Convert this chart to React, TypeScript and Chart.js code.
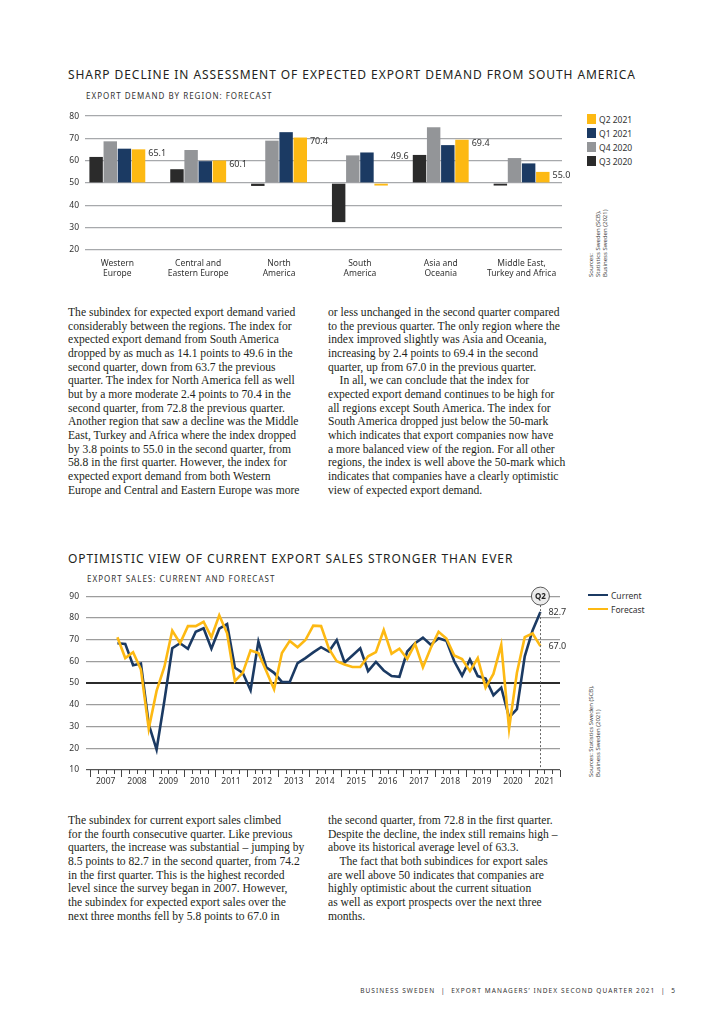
import React, { useEffect, useRef } from "react";
import { Chart, registerables } from "chart.js";

Chart.register(...registerables);
Chart.defaults.font.family = "'Noto Sans', sans-serif";

// ---------- Chart 1 data ----------
const regions = [
  ["Western", "Europe"],
  ["Central and", "Eastern Europe"],
  ["North", "America"],
  ["South", "America"],
  ["Asia and", "Oceania"],
  ["Middle East,", "Turkey and Africa"],
];
const q3_2020 = [61.7, 56.2, 48.7, 32.5, 62.6, 48.9];
const q4_2020 = [68.7, 64.8, 69.0, 62.4, 75.0, 61.2];
const q1_2021 = [65.4, 59.8, 72.8, 63.7, 67.0, 58.8];
const q2_2021 = [65.1, 60.1, 70.4, 49.6, 69.4, 55.0];
const barSeriesNames = ["Q3 2020", "Q4 2020", "Q1 2021", "Q2 2021"];
const barSeriesValues = [q3_2020, q4_2020, q1_2021, q2_2021];
const barColors = ["#2b2b2b", "#939598", "#1b3a63", "#fdb913"];
const demandTicks = [20, 30, 40, 50, 60, 70, 80];

// ---------- Chart 2 data ----------
const firstYear = 2007;
const firstQuarter = 4; // series starts 2007 Q4
const yearLabels = ["2007", "2008", "2009", "2010", "2011", "2012", "2013", "2014", "2015", "2016", "2017", "2018", "2019", "2020", "2021"];
const currentSales = [
  68.3, 68.0, 58.2, 59.0, 31.0, 19.4, 42.0, 66.0, 68.3, 65.8, 73.6, 75.2, 65.8, 75.0, 77.1,
  57.0, 54.7, 46.7, 69.1, 57.3, 54.7, 50.5, 50.5, 59.2, 61.5, 64.1, 66.5, 64.5, 69.8, 59.5,
  62.7, 66.0, 55.5, 59.7, 55.8, 53.2, 52.9, 64.5, 68.3, 70.9, 67.6, 70.6, 69.4, 60.0, 53.4,
  60.8, 53.2, 52.1, 44.4, 47.9, 34.2, 38.0, 62.3, 74.2, 82.7,
];
const forecastSales = [
  71.1, 61.5, 64.2, 56.2, 29.0, 46.4, 57.5, 74.1, 68.3, 76.2, 76.2, 78.2, 71.1, 81.2, 72.9,
  50.9, 54.7, 65.0, 63.8, 55.5, 47.1, 63.8, 69.4, 66.5, 69.8, 76.4, 76.2, 65.8, 60.0, 58.5,
  57.4, 57.4, 62.3, 64.2, 74.4, 63.5, 65.8, 61.1, 68.0, 57.3, 66.1, 73.6, 70.5, 62.7, 61.0,
  55.5, 61.5, 47.9, 54.2, 67.6, 29.0, 54.7, 71.1, 72.8, 67.0,
];
const lineSeriesNames = ["Current", "Forecast"];
const lineColors = ["#1b3a63", "#fdb913"];
const lastQuarterLabel = "Q2";

const quarterX = (i: number) => {
  const q = firstQuarter - 1 + i;
  return firstYear + Math.floor(q / 4) + ((q % 4) + 0.5) / 4;
};

// ---------- text ----------
const text1Left = `The subindex for expected export demand varied
considerably between the regions. The index for
expected export demand from South America
dropped by as much as 14.1 points to 49.6 in the
second quarter, down from 63.7 the previous
quarter. The index for North America fell as well
but by a more moderate 2.4 points to 70.4 in the
second quarter, from 72.8 the previous quarter.
Another region that saw a decline was the Middle
East, Turkey and Africa where the index dropped
by 3.8 points to 55.0 in the second quarter, from
58.8 in the first quarter. However, the index for
expected export demand from both Western
Europe and Central and Eastern Europe was more`;
const text1Right = `or less unchanged in the second quarter compared
to the previous quarter. The only region where the
index improved slightly was Asia and Oceania,
increasing by 2.4 points to 69.4 in the second
quarter, up from 67.0 in the previous quarter.
    In all, we can conclude that the index for
expected export demand continues to be high for
all regions except South America. The index for
South America dropped just below the 50-mark
which indicates that export companies now have
a more balanced view of the region. For all other
regions, the index is well above the 50-mark which
indicates that companies have a clearly optimistic
view of expected export demand.`;
const text2Left = `The subindex for current export sales climbed
for the fourth consecutive quarter. Like previous
quarters, the increase was substantial – jumping by
8.5 points to 82.7 in the second quarter, from 74.2
in the first quarter. This is the highest recorded
level since the survey began in 2007. However,
the subindex for expected export sales over the
next three months fell by 5.8 points to 67.0 in`;
const text2Right = `the second quarter, from 72.8 in the first quarter.
Despite the decline, the index still remains high –
above its historical average level of 63.3.
    The fact that both subindices for export sales
are well above 50 indicates that companies are
highly optimistic about the current situation
as well as export prospects over the next three
months.`;

// ---------- Chart 1 ----------
const barValueLabels = {
  id: "barValueLabels",
  afterDatasetsDraw(chart: any) {
    const ctx = chart.ctx;
    const last = chart.data.datasets.length - 1;
    const meta = chart.getDatasetMeta(last);
    const y = chart.scales.y;
    ctx.save();
    ctx.font = "9px 'Noto Sans'";
    ctx.fillStyle = "#333";
    ctx.textBaseline = "middle";
    ctx.textAlign = "left";
    meta.data.forEach((bar: any, i: number) => {
      const v = q2_2021[i];
      const ref = v >= 50 ? v : q1_2021[i];
      ctx.fillText(v.toFixed(1), bar.x + bar.width / 2 + 3, y.getPixelForValue(ref) + 4);
    });
    ctx.restore();
  },
};

function DemandChart() {
  const ref = useRef<HTMLCanvasElement>(null);
  useEffect(() => {
    const chart = new Chart(ref.current!, {
      type: "bar",
      data: {
        datasets: barSeriesNames.map((name, s) => ({
          label: name,
          data: barSeriesValues[s].map((v, i) => ({ x: i, y: v })),
          backgroundColor: barColors[s],
          base: 50,
          minBarLength: 2.5,
          categoryPercentage: 0.7,
          barPercentage: 0.95,
        })) as any,
      },
      options: {
        animation: false,
        responsive: true,
        maintainAspectRatio: false,
        layout: { padding: { left: 0, right: 8, top: 10, bottom: 0 } },
        plugins: { legend: { display: false }, tooltip: { enabled: false } },
        scales: {
          x: {
            type: "linear",
            offset: false,
            min: -0.4,
            max: 5.5,
            afterBuildTicks: (s: any) => {
              s.ticks = regions.map((_, i) => ({ value: i }));
            },
            afterFit: (s: any) => {
              s.height = 35;
            },
            ticks: {
              autoSkip: false,
              maxRotation: 0,
              padding: 8,
              color: "#333",
              font: { size: 8.5, lineHeight: 1.25 },
              callback: (_v: any, i: number) => regions[i],
            },
            grid: { display: false, drawTicks: false },
            border: { display: false },
          },
          y: {
            min: demandTicks[0],
            max: demandTicks[demandTicks.length - 1],
            afterBuildTicks: (s: any) => {
              s.ticks = demandTicks.map((v) => ({ value: v }));
            },
            afterFit: (s: any) => {
              s.width = 25;
            },
            ticks: { padding: 6, color: "#333", font: { size: 8.5 } },
            grid: { color: "#a7a9ac", lineWidth: 1.3, drawTicks: false },
            border: { display: false },
          },
        },
      },
      plugins: [barValueLabels],
    });
    return () => chart.destroy();
  }, []);
  return (
    <div style={{ position: "absolute", left: 60, top: 105, width: 510, height: 180 }}>
      <canvas ref={ref} />
    </div>
  );
}

// ---------- Chart 2 ----------
const salesDecor = {
  id: "salesDecor",
  afterDraw(chart: any) {
    const { ctx, chartArea } = chart;
    const x = chart.scales.x;
    const y = chart.scales.y;
    ctx.save();
    ctx.strokeStyle = "#444";
    ctx.lineWidth = 1;
    x.ticks.forEach((t: any, i: number) => {
      const px = Math.round(x.getPixelForValue(t.value)) + 0.5;
      ctx.beginPath();
      ctx.moveTo(px, chartArea.bottom);
      ctx.lineTo(px, chartArea.bottom + (i % 4 === 0 ? 7 : 4));
      ctx.stroke();
    });
    const lastIdx = currentSales.length - 1;
    const lx = x.getPixelForValue(quarterX(lastIdx));
    const cy = y.getPixelForValue(y.max);
    const r = 9;
    ctx.setLineDash([2, 2]);
    ctx.strokeStyle = "#666";
    ctx.beginPath();
    ctx.moveTo(Math.round(lx) + 0.5, cy + r);
    ctx.lineTo(Math.round(lx) + 0.5, chartArea.bottom);
    ctx.stroke();
    ctx.setLineDash([]);
    ctx.beginPath();
    ctx.arc(lx, cy, r, 0, Math.PI * 2);
    ctx.fillStyle = "#ececec";
    ctx.fill();
    ctx.strokeStyle = "#333";
    ctx.lineWidth = 0.8;
    ctx.stroke();
    ctx.fillStyle = "#222";
    ctx.font = "bold 8px 'Noto Sans'";
    ctx.textAlign = "center";
    ctx.textBaseline = "middle";
    ctx.fillText(lastQuarterLabel, lx, cy + 0.5);
    ctx.font = "9px 'Noto Sans'";
    ctx.fillStyle = "#333";
    ctx.textAlign = "left";
    [currentSales, forecastSales].forEach((arr) => {
      const v = arr[arr.length - 1];
      ctx.fillText(v.toFixed(1), lx + 8, y.getPixelForValue(v));
    });
    ctx.restore();
  },
};

function SalesChart() {
  const ref = useRef<HTMLCanvasElement>(null);
  useEffect(() => {
    const gridColor = (c: any) =>
      c.tick.value === 50 ? "#2b2b2b" : c.tick.value === 10 ? "#555" : "#9d9d9d";
    const chart = new Chart(ref.current!, {
      type: "line",
      data: {
        datasets: [
          {
            label: lineSeriesNames[0],
            data: currentSales.map((v, i) => ({ x: quarterX(i), y: v })),
            borderColor: lineColors[0],
            borderWidth: 2.6,
            pointRadius: 0,
            tension: 0,
            order: 1,
          },
          {
            label: lineSeriesNames[1],
            data: forecastSales.map((v, i) => ({ x: quarterX(i), y: v })),
            borderColor: lineColors[1],
            borderWidth: 2.6,
            pointRadius: 0,
            tension: 0,
            order: 0,
          },
        ],
      },
      options: {
        animation: false,
        responsive: true,
        maintainAspectRatio: false,
        layout: { padding: { left: 0, right: 20, top: 10, bottom: 0 } },
        plugins: { legend: { display: false }, tooltip: { enabled: false } },
        scales: {
          x: {
            type: "linear",
            offset: false,
            min: firstYear,
            max: firstYear + yearLabels.length,
            afterBuildTicks: (s: any) => {
              const t = [];
              for (let i = 0; i <= yearLabels.length * 4; i++) t.push({ value: firstYear + i / 4 });
              s.ticks = t;
            },
            afterFit: (s: any) => {
              s.height = 30;
            },
            ticks: {
              autoSkip: false,
              maxRotation: 0,
              padding: 6,
              color: "#333",
              font: { size: 8.5 },
              callback: (_v: any, i: number) => (i % 4 === 2 ? yearLabels[Math.floor(i / 4)] : ""),
            },
            grid: { display: false, drawTicks: false },
            border: { display: false },
          },
          y: {
            min: 10,
            max: 90,
            ticks: { stepSize: 10, padding: 7, color: "#333", font: { size: 8.5 } },
            afterFit: (s: any) => {
              s.width = 30;
            },
            grid: {
              color: gridColor,
              tickColor: gridColor,
              lineWidth: (c: any) => (c.tick.value === 50 ? 2 : 1.2),
              tickWidth: (c: any) => (c.tick.value === 50 ? 2 : 1.2),
              tickLength: 4,
            },
            border: { display: false },
          },
        },
      },
      plugins: [salesDecor],
    });
    return () => chart.destroy();
  }, []);
  return (
    <div style={{ position: "absolute", left: 60, top: 584, width: 520, height: 216 }}>
      <canvas ref={ref} />
    </div>
  );
}

// ---------- page ----------
const sans = "'Noto Sans', sans-serif";
const serif = "'Liberation Serif', 'DejaVu Serif', serif";

const titleStyle: React.CSSProperties = {
  position: "absolute",
  fontFamily: sans,
  fontSize: 12,
  lineHeight: "16px",
  letterSpacing: 0.93,
  color: "#231f20",
  whiteSpace: "nowrap",
};
const subStyle: React.CSSProperties = {
  position: "absolute",
  fontFamily: sans,
  fontSize: 8,
  lineHeight: "10px",
  letterSpacing: 1.0,
  color: "#333",
  whiteSpace: "nowrap",
};
const bodyStyle: React.CSSProperties = {
  position: "absolute",
  fontFamily: serif,
  fontSize: 11.6,
  lineHeight: "13.65px",
  color: "#231f20",
  whiteSpace: "pre",
};
const sourceStyle: React.CSSProperties = {
  position: "absolute",
  fontFamily: sans,
  fontSize: 6,
  lineHeight: "6.8px",
  color: "#444",
  whiteSpace: "pre",
  transform: "rotate(-90deg)",
  transformOrigin: "left top",
};
const legendText: React.CSSProperties = {
  fontFamily: sans,
  fontSize: 8.5,
  color: "#333",
  whiteSpace: "nowrap",
};

export default function App() {
  return (
    <div style={{ position: "absolute", left: 0, top: 0, width: 724, height: 1024, background: "#fff", overflow: "hidden" }}>
      <div style={{ ...titleStyle, left: 68, top: 67 }}>
        SHARP DECLINE IN ASSESSMENT OF EXPECTED EXPORT DEMAND FROM SOUTH AMERICA
      </div>
      <div style={{ ...subStyle, left: 86, top: 91 }}>EXPORT DEMAND BY REGION: FORECAST</div>
      <DemandChart />
      <div style={{ position: "absolute", left: 587, top: 112 }}>
        {barSeriesNames
          .map((n, i) => ({ n, c: barColors[i] }))
          .reverse()
          .map((it) => (
            <div key={it.n} style={{ display: "flex", alignItems: "center", height: 14 }}>
              <div style={{ width: 9, height: 10, background: it.c, marginRight: 3 }} />
              <span style={legendText}>{it.n}</span>
            </div>
          ))}
      </div>
      <div style={{ ...sourceStyle, left: 588, top: 277 }}>
        {"Sources:\nStatistics Sweden (SCB),\nBusiness Sweden (2021)"}
      </div>

      <div style={{ ...bodyStyle, left: 68, top: 306 }}>{text1Left}</div>
      <div style={{ ...bodyStyle, left: 328, top: 306 }}>{text1Right}</div>

      <div style={{ ...titleStyle, left: 68, top: 551 }}>
        OPTIMISTIC VIEW OF CURRENT EXPORT SALES STRONGER THAN EVER
      </div>
      <div style={{ ...subStyle, left: 87, top: 574 }}>EXPORT SALES: CURRENT AND FORECAST</div>
      <SalesChart />
      <div style={{ position: "absolute", left: 588, top: 588 }}>
        {lineSeriesNames.map((n, i) => (
          <div key={n} style={{ display: "flex", alignItems: "center", height: 14 }}>
            <div style={{ width: 20, height: 2.6, background: lineColors[i], marginRight: 3 }} />
            <span style={legendText}>{n}</span>
          </div>
        ))}
      </div>
      <div style={{ ...sourceStyle, left: 588, top: 777 }}>
        {"Sources: Statistics Sweden (SCB),\nBusiness Sweden (2021)"}
      </div>

      <div style={{ ...bodyStyle, left: 68, top: 814 }}>{text2Left}</div>
      <div style={{ ...bodyStyle, left: 328, top: 814 }}>{text2Right}</div>

      <div
        style={{
          position: "absolute",
          right: 48,
          top: 987,
          fontFamily: sans,
          fontSize: 6.5,
          lineHeight: "8px",
          letterSpacing: 1.1,
          color: "#333",
          whiteSpace: "pre",
        }}
      >
        {"BUSINESS SWEDEN  |  EXPORT MANAGERS’ INDEX SECOND QUARTER 2021  |  5"}
      </div>
    </div>
  );
}
